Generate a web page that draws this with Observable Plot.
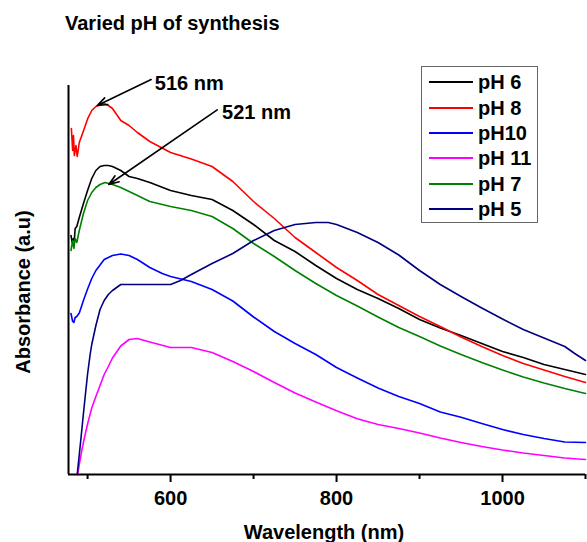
<!DOCTYPE html>
<html><head><meta charset="utf-8">
<script src="https://cdn.jsdelivr.net/npm/d3@7"></script>
<script src="https://cdn.jsdelivr.net/npm/@observablehq/plot@0.6"></script>
<style>
body{margin:0;background:#fff;}
#wrap{position:relative;width:587px;height:542px;font-family:"Liberation Sans",Arial,sans-serif;font-weight:bold;color:#000;}
#wrap svg{position:absolute;left:0;top:0;}
.title{position:absolute;left:65px;top:13px;font-size:20px;line-height:20px;white-space:nowrap}
.xlabel{position:absolute;left:324px;top:522px;font-size:20px;line-height:20px;transform:translateX(-50%);white-space:nowrap}
.ylabel{position:absolute;left:23px;top:292px;font-size:20px;line-height:20px;transform:translate(-50%,-50%) rotate(-90deg);white-space:nowrap}
.legend{position:absolute;left:421px;top:66px;width:115px;border:1px solid #666;padding-top:2.5px;padding-bottom:0;background:#fff}
.legend .row{display:flex;align-items:center;height:25.4px}
.legend .sw{width:44px;height:2px;margin-left:7px;margin-right:5px}
.legend span{font-size:20px;line-height:20px;white-space:nowrap}
</style>
</head><body>
<div id="wrap"></div>
<script>
// ---- data ----
const chartTitle = "Varied pH of synthesis";
const xLabel = "Wavelength (nm)";
const yLabel = "Absorbance (a.u)";
const seriesNames = ["pH 6", "pH 8", "pH10", "pH 11", "pH 7", "pH 5"];
const seriesColors = ["#000000", "#ff0000", "#0000ff", "#ff00ff", "#008000", "#000080"];
const xDomain = [477, 1100];
const yDomain = [0, 3.89];
const xTickLabels = [600, 800, 1000];
const xMinorTicks = [500, 700, 900, 1100];

const nmPH6 = [480, 481.5, 483, 484, 485, 487, 490, 495, 500, 505, 510, 515, 520, 525, 530, 540, 550, 560, 575, 600, 625, 650, 675, 700, 725, 750, 775, 800, 825, 850, 875, 900, 925, 950, 975, 1000, 1025, 1050, 1075, 1100];
const absPH6 = [2.39, 2.32, 2.36, 2.34, 2.46, 2.48, 2.57, 2.71, 2.84, 2.96, 3.04, 3.08, 3.09, 3.09, 3.08, 3.04, 2.98, 2.96, 2.92, 2.84, 2.79, 2.75, 2.64, 2.50, 2.34, 2.23, 2.09, 1.96, 1.85, 1.76, 1.66, 1.55, 1.465, 1.39, 1.31, 1.23, 1.17, 1.10, 1.05, 1.00];

const nmPH8 = [480.5, 482, 483, 484, 486, 487.5, 489, 490, 495, 500, 505, 510, 516, 520, 525, 530, 540, 550, 560, 575, 600, 625, 650, 675, 700, 725, 750, 775, 800, 825, 850, 875, 900, 925, 950, 975, 1000, 1025, 1050, 1075, 1100];
const absPH8 = [3.46, 3.24, 3.39, 3.19, 3.29, 3.18, 3.26, 3.32, 3.435, 3.556, 3.64, 3.68, 3.70, 3.71, 3.69, 3.66, 3.54, 3.49, 3.42, 3.33, 3.22, 3.155, 3.08, 2.93, 2.73, 2.56, 2.37, 2.22, 2.07, 1.94, 1.80, 1.69, 1.58, 1.48, 1.375, 1.28, 1.19, 1.11, 1.045, 0.98, 0.92];

const nmPH10 = [480, 482, 483.5, 485, 487, 490, 495, 500, 505, 510, 520, 530, 540, 550, 560, 575, 590, 600, 625, 650, 675, 700, 725, 750, 775, 800, 825, 850, 875, 900, 925, 950, 975, 1000, 1025, 1050, 1075, 1100];
const absPH10 = [1.61, 1.53, 1.52, 1.57, 1.58, 1.615, 1.74, 1.855, 1.96, 2.04, 2.15, 2.19, 2.205, 2.19, 2.15, 2.07, 2.01, 1.98, 1.93, 1.85, 1.735, 1.575, 1.43, 1.31, 1.20, 1.07, 0.965, 0.865, 0.78, 0.71, 0.625, 0.573, 0.51, 0.45, 0.40, 0.36, 0.325, 0.32];

const nmPH11 = [488, 490, 493, 496, 500, 505, 510, 515, 520, 525, 530, 540, 550, 560, 575, 600, 625, 650, 675, 700, 725, 750, 775, 800, 825, 850, 875, 900, 925, 950, 975, 1000, 1025, 1050, 1075, 1100];
const absPH11 = [0.00, 0.10, 0.24, 0.36, 0.505, 0.665, 0.78, 0.89, 1.00, 1.08, 1.165, 1.285, 1.35, 1.36, 1.325, 1.27, 1.27, 1.22, 1.13, 1.03, 0.92, 0.815, 0.725, 0.637, 0.558, 0.50, 0.46, 0.415, 0.365, 0.32, 0.28, 0.245, 0.215, 0.19, 0.165, 0.15];

const nmPH7 = [480, 482, 483.5, 485, 487, 490, 495, 500, 505, 510, 515, 521, 530, 540, 550, 575, 600, 625, 650, 675, 700, 725, 750, 775, 800, 825, 850, 875, 900, 925, 950, 975, 1000, 1025, 1050, 1075, 1100];
const absPH7 = [2.24, 2.34, 2.26, 2.36, 2.32, 2.44, 2.61, 2.74, 2.82, 2.87, 2.90, 2.92, 2.90, 2.87, 2.83, 2.73, 2.68, 2.64, 2.58, 2.46, 2.31, 2.18, 2.04, 1.91, 1.79, 1.685, 1.575, 1.47, 1.38, 1.285, 1.20, 1.12, 1.045, 0.975, 0.915, 0.86, 0.81];

const nmPH5 = [487.5, 490, 492, 495, 497.5, 500, 503, 505, 510, 515, 520, 525, 530, 540, 550, 575, 600, 612, 625, 650, 675, 700, 725, 750, 775, 790, 800, 825, 850, 875, 900, 925, 950, 975, 1000, 1025, 1050, 1075, 1087, 1100];
const absPH5 = [0.00, 0.20, 0.36, 0.61, 0.81, 1.005, 1.195, 1.30, 1.49, 1.65, 1.74, 1.80, 1.84, 1.90, 1.90, 1.90, 1.90, 1.94, 2.00, 2.11, 2.21, 2.34, 2.44, 2.50, 2.52, 2.52, 2.50, 2.42, 2.32, 2.195, 2.04, 1.90, 1.78, 1.665, 1.555, 1.45, 1.365, 1.28, 1.21, 1.14];

// peak annotations (data units: nm, a.u.)
const annotLabels = ["516 nm", "521 nm"];
const annotTextNm = [581, 662];
const annotTextAbs = [3.91, 3.62];
const arrowFromNm = [576.6, 656.2];
const arrowFromAbs = [3.95, 3.647];
const arrowToNm = [511.6, 525.6];
const arrowToAbs = [3.69, 2.90];

// ---- build ----
const seriesNm = [nmPH6, nmPH8, nmPH10, nmPH11, nmPH7, nmPH5];
const seriesAbs = [absPH6, absPH8, absPH10, absPH11, absPH7, absPH5];
const rows = seriesNames.flatMap((name, i) =>
  seriesNm[i].map((x, j) => ({series: name, nm: x, abs: seriesAbs[i][j]})));
const annots = annotLabels.map((label, i) => ({
  label, tx: annotTextNm[i], ty: annotTextAbs[i],
  x1: arrowFromNm[i], y1: arrowFromAbs[i], x2: arrowToNm[i], y2: arrowToAbs[i]
}));

const chart = Plot.plot({
  width: 587, height: 542,
  marginTop: 85, marginRight: 2, marginBottom: 68, marginLeft: 68,
  x: {domain: xDomain, ticks: xTickLabels, tickFormat: d => String(d), tickSize: 0, tickPadding: 16, label: null},
  y: {domain: yDomain, axis: null},
  color: {domain: seriesNames, range: seriesColors},
  style: {fontFamily: "'Liberation Sans', Arial, sans-serif", fontSize: "20px", fontWeight: "bold", color: "#000", background: "transparent", overflow: "visible"},
  marks: [
    Plot.line(rows, {x: "nm", y: "abs", z: "series", stroke: "series", strokeWidth: 1.6}),
    Plot.ruleX(xTickLabels, {y1: 0, y2: 0, insetBottom: -8, strokeWidth: 2}),
    Plot.ruleX(xMinorTicks, {y1: 0, y2: 0, insetBottom: -5, strokeWidth: 2}),
    Plot.ruleX([xDomain[0]], {strokeWidth: 2}),
    Plot.ruleY([yDomain[0]], {strokeWidth: 2}),
    Plot.arrow(annots, {x1: "x1", y1: "y1", x2: "x2", y2: "y2", stroke: "#000", strokeWidth: 1.6, headLength: 10, headAngle: 40}),
    Plot.text(annots, {x: "tx", y: "ty", text: "label", textAnchor: "start", lineAnchor: "middle", fontSize: 20, fontWeight: "bold", fill: "#000"})
  ]
});

const wrap = document.getElementById("wrap");
wrap.appendChild(chart);

const t = document.createElement("div"); t.className = "title"; t.textContent = chartTitle; wrap.appendChild(t);
const xl = document.createElement("div"); xl.className = "xlabel"; xl.textContent = xLabel; wrap.appendChild(xl);
const yl = document.createElement("div"); yl.className = "ylabel"; yl.textContent = yLabel; wrap.appendChild(yl);

const lg = document.createElement("div"); lg.className = "legend";
seriesNames.forEach((name, i) => {
  const r = document.createElement("div"); r.className = "row";
  const sw = document.createElement("div"); sw.className = "sw"; sw.style.background = seriesColors[i];
  const sp = document.createElement("span"); sp.textContent = name;
  r.appendChild(sw); r.appendChild(sp); lg.appendChild(r);
});
wrap.appendChild(lg);
</script>
</body></html>
